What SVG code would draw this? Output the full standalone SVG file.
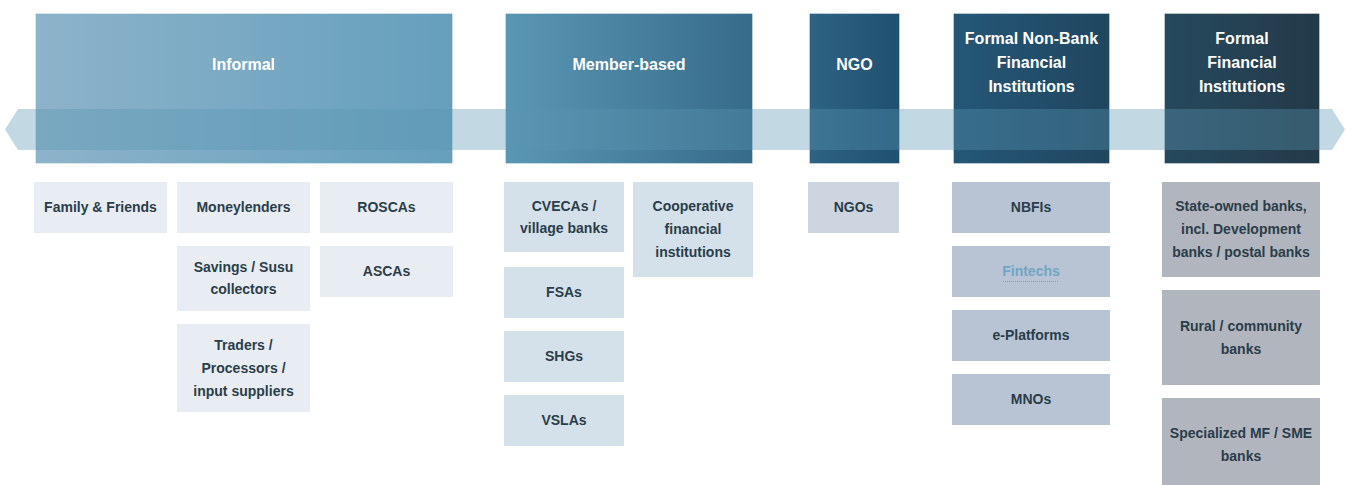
<svg xmlns="http://www.w3.org/2000/svg" width="1347" height="485" viewBox="0 0 1347 485">
<defs>
<linearGradient id="gInf" x1="0" x2="1" y1="0" y2="0"><stop offset="0" stop-color="#8db3ca"/><stop offset="1" stop-color="#659fbc"/></linearGradient>
<linearGradient id="gMem" x1="0" x2="1" y1="0" y2="0"><stop offset="0" stop-color="#5a97b5"/><stop offset="1" stop-color="#376b8a"/></linearGradient>
<linearGradient id="gNgo" x1="0" x2="1" y1="0" y2="0"><stop offset="0" stop-color="#2e6383"/><stop offset="1" stop-color="#1f5072"/></linearGradient>
<linearGradient id="gNb" x1="0" x2="1" y1="0" y2="0"><stop offset="0" stop-color="#245777"/><stop offset="1" stop-color="#20465f"/></linearGradient>
<linearGradient id="gFf" x1="0" x2="1" y1="0" y2="0"><stop offset="0" stop-color="#26495e"/><stop offset="1" stop-color="#233a48"/></linearGradient>
</defs>
<style>
.hd{stroke:#ffffff;stroke-opacity:0.35;stroke-width:1}
.ht{font-family:"Liberation Sans",Arial,sans-serif;font-weight:bold;font-size:16px;fill:#ffffff;text-anchor:middle}
.bt{font-family:"Liberation Sans",Arial,sans-serif;font-weight:bold;font-size:14px;fill:#2a3d4a;text-anchor:middle}
.c1{fill:#e8edf3}
.c2{fill:#d5e1ea}
.c3{fill:#cdd5e0}
.c4{fill:#b8c4d4}
.c5{fill:#b1b5bd}
</style>
<g id="headers">
<g id="h-informal"><rect class="hd" x="35.5" y="13.5" width="417" height="150" fill="url(#gInf)"/><text class="ht" x="243.5" y="70">Informal</text></g>
<g id="h-member"><rect class="hd" x="505.5" y="13.5" width="247" height="150" fill="url(#gMem)"/><text class="ht" x="629" y="70">Member-based</text></g>
<g id="h-ngo"><rect class="hd" x="809.5" y="13.5" width="90" height="150" fill="url(#gNgo)"/><text class="ht" x="854.5" y="70">NGO</text></g>
<g id="h-nbfi"><rect class="hd" x="953.5" y="13.5" width="156" height="150" fill="url(#gNb)"/><text class="ht" x="1031.5" y="44">Formal Non-Bank</text><text class="ht" x="1031.5" y="68">Financial</text><text class="ht" x="1031.5" y="92">Institutions</text></g>
<g id="h-formal"><rect class="hd" x="1164.5" y="13.5" width="155" height="150" fill="url(#gFf)"/><text class="ht" x="1242" y="44">Formal</text><text class="ht" x="1242" y="68">Financial</text><text class="ht" x="1242" y="92">Institutions</text></g>
</g>
<g id="connectors">
<path d="M5,129.5 L18,109 L1332,109 L1345,129.5 L1332,150 L18,150 Z" fill="#5a96b1" fill-opacity="0.37"/>
</g>
<g id="n-family"><rect class="c1" x="34" y="182" width="133" height="51"/><text class="bt" x="100.5" y="212">Family &amp; Friends</text></g>
<g id="n-money"><rect class="c1" x="177" y="182" width="133" height="51"/><text class="bt" x="243.5" y="212">Moneylenders</text></g>
<g id="n-roscas"><rect class="c1" x="320" y="182" width="133" height="51"/><text class="bt" x="386.5" y="212">ROSCAs</text></g>
<g id="n-savings"><rect class="c1" x="177" y="246" width="133" height="65"/><text class="bt" x="243.5" y="272">Savings / Susu</text><text class="bt" x="243.5" y="294">collectors</text></g>
<g id="n-ascas"><rect class="c1" x="320" y="246" width="133" height="51"/><text class="bt" x="386.5" y="276">ASCAs</text></g>
<g id="n-traders"><rect class="c1" x="177" y="324" width="133" height="88"/><text class="bt" x="243.5" y="350">Traders /</text><text class="bt" x="243.5" y="373">Processors /</text><text class="bt" x="243.5" y="396">input suppliers</text></g>
<g id="n-cvecas"><rect class="c2" x="504" y="182" width="120" height="70"/><text class="bt" x="564" y="211">CVECAs /</text><text class="bt" x="564" y="233">village banks</text></g>
<g id="n-coop"><rect class="c2" x="633" y="182" width="120" height="95"/><text class="bt" x="693" y="211">Cooperative</text><text class="bt" x="693" y="234">financial</text><text class="bt" x="693" y="257">institutions</text></g>
<g id="n-fsas"><rect class="c2" x="504" y="267" width="120" height="51"/><text class="bt" x="564" y="297">FSAs</text></g>
<g id="n-shgs"><rect class="c2" x="504" y="331" width="120" height="51"/><text class="bt" x="564" y="361">SHGs</text></g>
<g id="n-vslas"><rect class="c2" x="504" y="395" width="120" height="51"/><text class="bt" x="564" y="425">VSLAs</text></g>
<g id="n-ngos"><rect class="c3" x="808" y="182" width="91" height="51"/><text class="bt" x="853.5" y="212">NGOs</text></g>
<g id="n-nbfis"><rect class="c4" x="952" y="182" width="158" height="51"/><text class="bt" x="1031" y="212">NBFIs</text></g>
<g id="n-fintechs"><rect class="c4" x="952" y="246" width="158" height="51"/><text class="bt" x="1031" y="276" style="fill:#6fa6c2">Fintechs</text><line x1="1003" y1="281.5" x2="1059" y2="281.5" stroke="#6fa6c2" stroke-width="1" stroke-dasharray="1,1"/></g>
<g id="n-eplat"><rect class="c4" x="952" y="310" width="158" height="51"/><text class="bt" x="1031" y="340">e-Platforms</text></g>
<g id="n-mnos"><rect class="c4" x="952" y="374" width="158" height="51"/><text class="bt" x="1031" y="404">MNOs</text></g>
<g id="n-state"><rect class="c5" x="1162" y="182" width="158" height="95"/><text class="bt" x="1241" y="211">State-owned banks,</text><text class="bt" x="1241" y="234">incl. Development</text><text class="bt" x="1241" y="257">banks / postal banks</text></g>
<g id="n-rural"><rect class="c5" x="1162" y="290" width="158" height="95"/><text class="bt" x="1241" y="331">Rural / community</text><text class="bt" x="1241" y="354">banks</text></g>
<g id="n-spec"><rect class="c5" x="1162" y="398" width="158" height="95"/><text class="bt" x="1241" y="438">Specialized MF / SME</text><text class="bt" x="1241" y="461">banks</text></g>
</svg>
